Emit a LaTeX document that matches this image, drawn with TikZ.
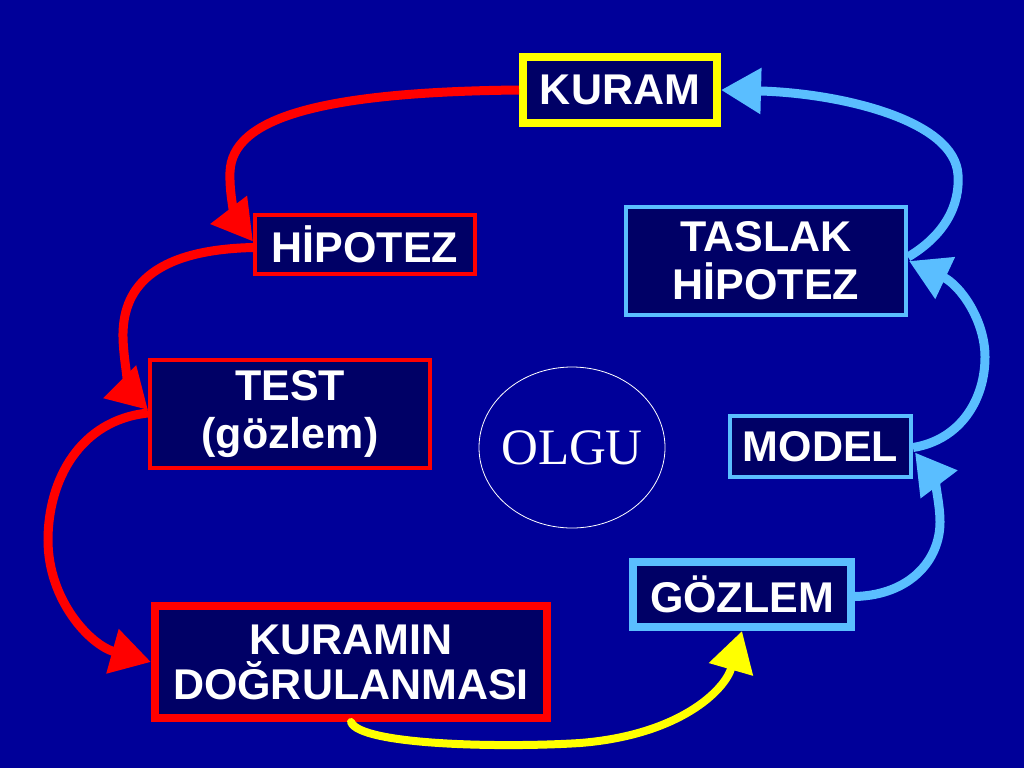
\documentclass[tikz,border=0pt]{standalone}
\usepackage{fontspec}
\setmainfont{Liberation Sans}
\newfontfamily\olgufont{Liberation Serif}
\usetikzlibrary{arrows.meta,calc,shapes.geometric}
\definecolor{bgblue}{RGB}{0,0,153}
\definecolor{boxfill}{RGB}{0,0,102}
\definecolor{lblue}{RGB}{90,190,255}
\definecolor{cred}{RGB}{255,0,0}
\definecolor{cyellow}{RGB}{255,255,0}
\tikzset{
  box/.style={rectangle, fill=boxfill, text=white, align=center, inner sep=0pt,
    font=\fontsize{43}{48}\selectfont\bfseries},
  thinb/.style={line width=4pt},
  thickb/.style={line width=8pt},
  tip/.style={-{Triangle[length=40pt,width=44pt]}},
  redarrow/.style={tip, draw=cred, line width=9pt},
  bluearrow/.style={tip, draw=lblue, line width=9pt},
  yelarrow/.style={tip, draw=cyellow, line width=8pt, line cap=round},
}
\begin{document}
\begin{tikzpicture}[x=1pt,y=-1pt]
\fill[bgblue] (0,0) rectangle (1024,768);
\useasboundingbox (0,0) rectangle (1024,768);

\node[box, thickb, draw=cyellow, minimum width=194pt, minimum height=66pt] (kuram) at (620,90) {KURAM};
\node[box, thinb, draw=cred, minimum width=220pt, minimum height=59pt] (hip) at (365,244.5) {HİPOTEZ};
\node[box, thinb, draw=lblue, minimum width=280pt, minimum height=108pt] (taslak) at (766,261) {TASLAK\\HİPOTEZ};
\node[box, thinb, draw=cred, minimum width=280pt, minimum height=108pt] (test) at (290,414) {TEST\\(gözlem)};
\node[box, thinb, draw=lblue, minimum width=181pt, minimum height=61pt] (model) at (820.5,446.5) {MODEL};
\node[box, thickb, draw=lblue, minimum width=218pt, minimum height=65pt] (gozlem) at (742,594.5) {GÖZLEM};
\node[box, thickb, draw=cred, minimum width=392pt, minimum height=112pt,
  font=\fontsize{43}{45}\selectfont\bfseries] (kdog) at (351,662) {KURAMIN\\DOĞRULANMASI};
\node[ellipse, draw=white, line width=0.8pt, minimum width=186pt, minimum height=161pt,
  text=white, font=\olgufont\fontsize{51}{53}\selectfont, inner sep=0pt] (olgu) at (572,447.5) {\makebox[0pt]{OLGU}};

% red arrows
\draw[redarrow] (kuram.west) .. controls (320,92) and (232,118) .. (230,172)
  .. controls (229,200) and (238,222) .. ($(hip.west)+(0,-3)$);
\draw[redarrow] ($(hip.west)+(0,3)$) .. controls (150,250) and (122,290) .. (123,338)
  .. controls (124,370) and (133,395) .. ($(test.west)+(0,-4)$);
\draw[redarrow] ($(test.west)+(0,-1)$) .. controls (80,420) and (48,480) .. (48,540)
  .. controls (48,600) and (90,645) .. (kdog.west);
% yellow arrow
\draw[yelarrow] (kdog.south) .. controls (360,745) and (500,748) .. (580,743)
  .. controls (680,735) and (725,690) .. (gozlem.south);
% light blue arrows
\draw[bluearrow] ($(gozlem.east)+(0,2)$) .. controls (910,595) and (940,560) .. (940,522)
  .. controls (940,500) and (932,475) .. ($(model.east)+(2,6)$);
\draw[bluearrow] ($(model.east)+(0,1)$) .. controls (960,440) and (985,400) .. (985,357)
  .. controls (985,320) and (960,285) .. ($(taslak.east)+(1,0)$);
\draw[bluearrow] ($(taslak.east)+(0,-4)$) .. controls (945,235) and (960,205) .. (958,175)
  .. controls (955,120) and (840,93) .. (kuram.east);
\end{tikzpicture}
\end{document}
